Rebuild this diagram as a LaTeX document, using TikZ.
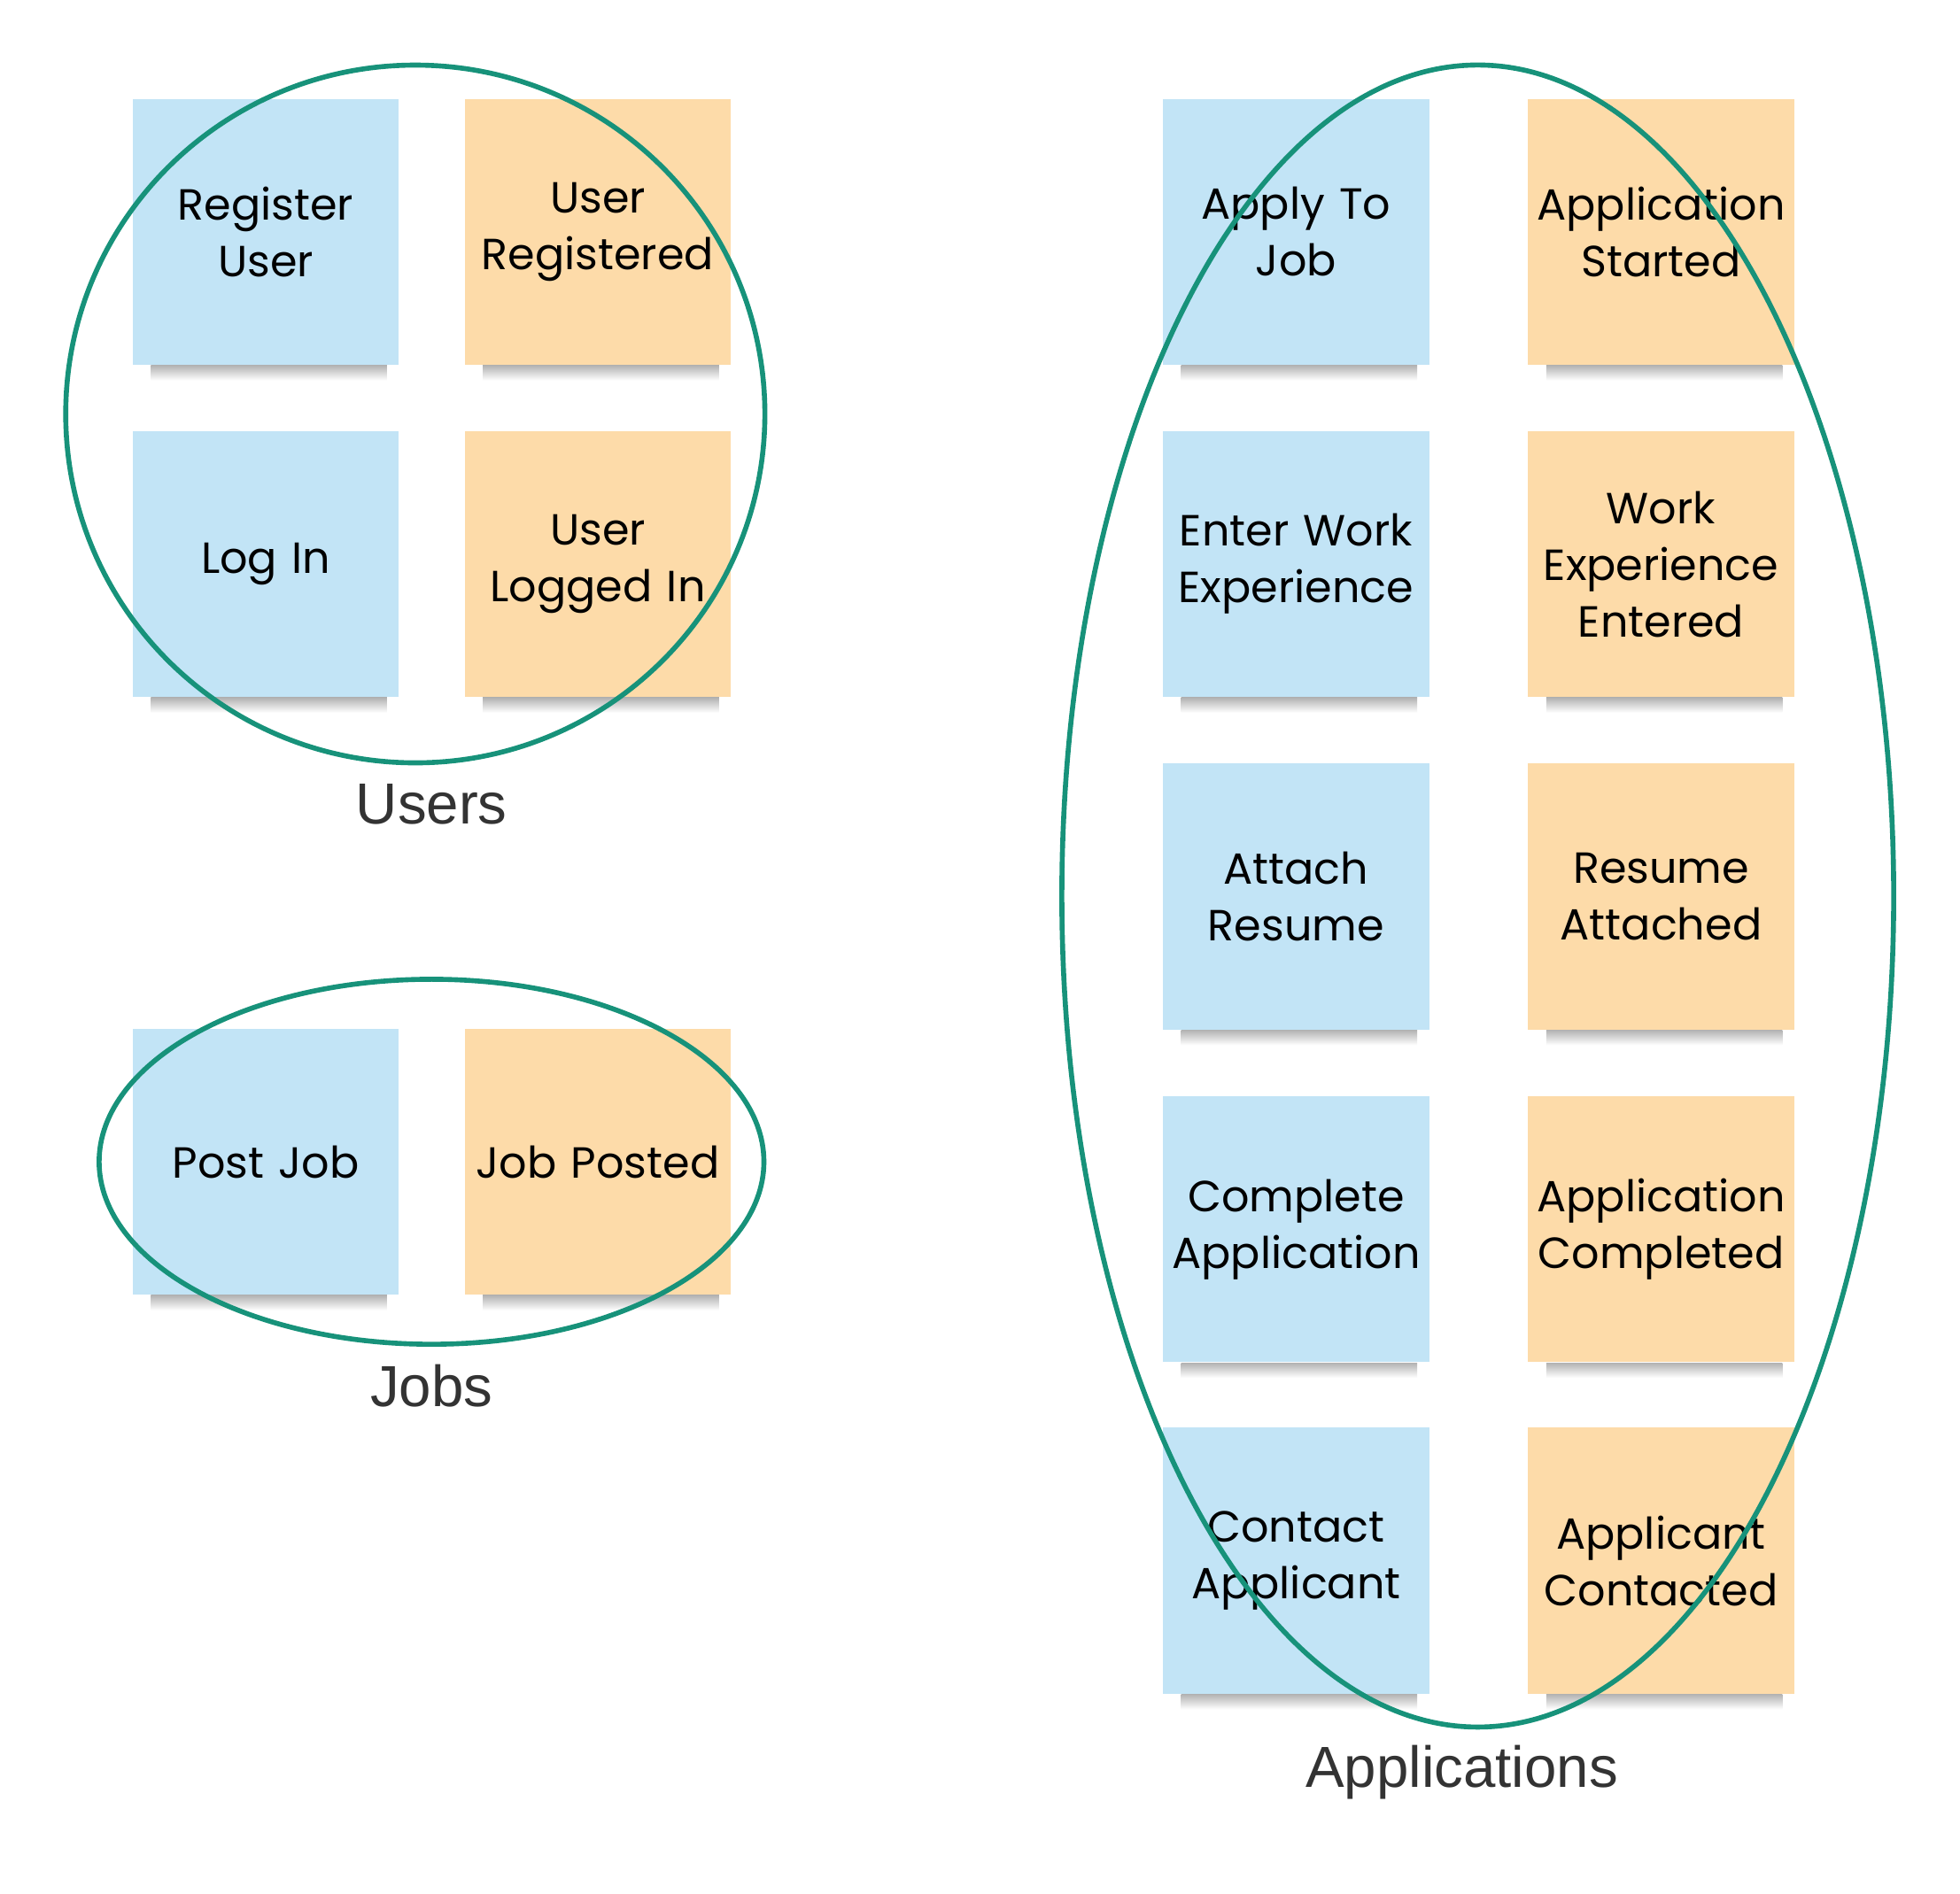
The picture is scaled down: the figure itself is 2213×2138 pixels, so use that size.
\documentclass[tikz,border=0pt]{standalone}
\usepackage{fontspec}
\setmainfont{Poppins}
\newfontfamily\labelfont{Liberation Sans}
\usetikzlibrary{positioning}

\definecolor{cmdblue}{HTML}{C2E4F6}
\definecolor{evtorange}{HTML}{FDDBA9}
\definecolor{ctxgreen}{HTML}{17927A}
\definecolor{labelgray}{HTML}{333333}

\begin{document}
\begin{tikzpicture}[x=0.01cm,y=-0.01cm,
  note/.style={minimum width=3cm,minimum height=3cm,inner sep=0pt,
    text width=3cm,align=center,font=\fontsize{14}{18.2}\selectfont},
  command/.style={note,fill=cmdblue},
  event/.style={note,fill=evtorange},
  context/.style={draw=ctxgreen,line width=1.6pt},
  ctxlabel/.style={font=\labelfont\fontsize{18.6}{22}\selectfont,text=labelgray}]

\useasboundingbox (0,0) rectangle (2213,2138);

% sticky note with its shadow
\def\note#1#2#3#4#5{
	\node[#2] (#1) at (#3,#4) {#5};
	\shade[top color=black!30,bottom color=white]
		([xshift=0.21cm]#1.south west) rectangle ([xshift=-0.14cm,yshift=-0.17cm]#1.south east);
}

% Users
\note{reguser}{command}{300.1}{261.8}{Register\\User}
\note{userreg}{event}{675}{261.8}{User\\Registered}
\note{login}{command}{300.1}{637.1}{Log In}
\note{loggedin}{event}{675}{637.1}{User\\Logged In}

% Jobs
\note{postjob}{command}{300.1}{1312}{Post Job}
\note{jobposted}{event}{675}{1312}{Job Posted}

% Applications
\note{apply}{command}{1463.4}{261.8}{Apply To\\Job}
\note{appstarted}{event}{1875.5}{261.8}{Application\\Started}
\note{enterwork}{command}{1463.4}{637.1}{Enter Work\\Experience}
\note{workentered}{event}{1875.5}{637.1}{Work\\Experience\\Entered}
\note{attach}{command}{1463.4}{1012.4}{Attach\\Resume}
\note{attached}{event}{1875.5}{1012.4}{Resume\\Attached}
\note{complete}{command}{1463.4}{1388.2}{Complete\\Application}
\note{completed}{event}{1875.5}{1388.2}{Application\\Completed}
\note{contact}{command}{1463.4}{1762.5}{Contact\\Applicant}
\note{contacted}{event}{1875.5}{1762.5}{Applicant\\Contacted}

% bounded contexts
\draw[context] (468.9,467.5) ellipse[x radius=394.7,y radius=394];
\node[ctxlabel] (users) at (487.2,907.9) {Users};

\draw[context] (487.2,1312) ellipse[x radius=375.3,y radius=206.1];
\node[ctxlabel] (jobs) at (487.2,1565) {Jobs};

\draw[context] (1668.5,1011.9) ellipse[x radius=469.6,y radius=938.5];
\node[ctxlabel] (apps) at (1650.5,2002) {Applications};

\end{tikzpicture}
\end{document}
